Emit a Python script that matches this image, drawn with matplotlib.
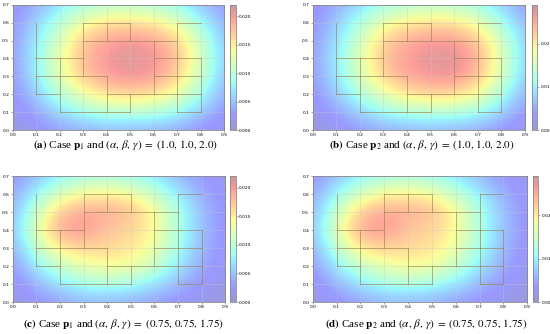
import numpy as np
import matplotlib
matplotlib.use("Agg")
import matplotlib.pyplot as plt

plt.rcParams['font.family'] = ['Liberation Serif', 'DejaVu Serif']
plt.rcParams['mathtext.fontset'] = 'stix'

# node grid of the field (x = 0.0 .. 0.9, y = 0.0 .. 0.7), rows listed top (y=0.7) to bottom
xs = np.round(np.arange(0, 0.91, 0.1), 2)
ys = np.round(np.arange(0, 0.71, 0.1), 2)

# field values in units of 1e-3
field_a = np.array([
    [1.8, 4.0, 6.6, 8.8, 9.9, 9.9, 9.2, 7.7, 4.8, 2.6],
    [2.2, 6.2, 9.9, 13.6, 15.4, 15.8, 15.0, 12.8, 8.4, 4.0],
    [2.6, 7.3, 12.1, 17.2, 19.4, 20.2, 19.4, 16.5, 11.0, 4.8],
    [2.9, 7.9, 13.2, 18.0, 20.2, 21.3, 20.5, 17.6, 12.1, 5.3],
    [2.6, 7.5, 12.8, 17.2, 19.8, 20.5, 19.8, 16.7, 11.0, 4.8],
    [2.2, 5.7, 9.9, 13.6, 15.8, 16.7, 15.8, 13.2, 8.8, 3.7],
    [1.5, 3.7, 6.6, 8.8, 9.9, 10.3, 9.9, 8.4, 5.5, 2.6],
    [0.7, 1.8, 3.1, 4.0, 4.4, 4.4, 4.2, 3.5, 2.2, 1.1],
])
field_b = np.array([
    [2.3, 4.9, 8.1, 11.0, 12.5, 13.1, 12.8, 11.0, 7.3, 3.8],
    [2.9, 7.5, 12.5, 17.4, 19.7, 20.9, 20.3, 17.4, 11.6, 5.8],
    [3.5, 8.7, 15.1, 21.8, 24.9, 26.1, 26.1, 22.6, 15.1, 7.0],
    [3.8, 9.9, 16.5, 23.2, 26.1, 27.6, 28.1, 24.4, 16.5, 7.5],
    [3.5, 9.3, 16.0, 22.0, 25.5, 26.7, 27.0, 23.2, 15.4, 7.0],
    [2.9, 7.3, 12.5, 17.4, 20.3, 21.8, 21.5, 18.3, 12.2, 5.2],
    [2.0, 4.6, 8.1, 11.0, 12.8, 13.3, 13.1, 11.6, 7.5, 3.5],
    [0.9, 2.0, 3.8, 4.9, 5.5, 5.8, 5.5, 4.9, 3.2, 1.5],
])
field_c = np.array([
    [2.2, 4.8, 7.3, 8.8, 9.2, 8.4, 6.6, 4.4, 2.6, 1.5],
    [3.3, 8.4, 12.1, 14.5, 15.0, 13.9, 11.0, 7.3, 4.0, 2.0],
    [4.4, 11.0, 17.2, 19.4, 18.9, 18.0, 14.3, 9.2, 4.8, 2.2],
    [4.8, 12.8, 19.4, 20.2, 17.2, 16.3, 14.3, 9.2, 4.8, 2.2],
    [4.0, 10.6, 15.4, 16.5, 16.3, 15.8, 13.2, 8.8, 4.4, 2.0],
    [2.6, 7.3, 11.0, 13.2, 14.1, 13.6, 11.0, 7.0, 3.7, 1.8],
    [1.8, 4.4, 7.0, 8.8, 9.5, 8.8, 7.0, 4.4, 2.6, 1.3],
    [0.9, 2.2, 3.3, 4.4, 4.4, 4.0, 3.1, 2.2, 1.3, 0.7],
])
field_d = np.array([
    [2.9, 6.4, 9.6, 11.6, 12.2, 11.0, 8.7, 5.8, 3.5, 2.0],
    [4.4, 11.0, 16.0, 19.1, 19.7, 18.3, 14.5, 9.6, 5.2, 2.6],
    [5.8, 14.5, 22.6, 25.5, 24.9, 23.8, 18.9, 12.2, 6.4, 2.9],
    [6.4, 16.8, 25.5, 26.7, 22.6, 21.5, 18.9, 12.2, 6.4, 2.9],
    [5.2, 13.9, 20.3, 21.8, 21.5, 20.9, 17.4, 11.6, 5.8, 2.6],
    [3.5, 9.6, 14.5, 17.4, 18.6, 18.0, 14.5, 9.3, 4.9, 2.3],
    [2.3, 5.8, 9.3, 11.6, 12.5, 11.6, 9.3, 5.8, 3.5, 1.7],
    [1.2, 2.9, 4.4, 5.8, 5.8, 5.2, 4.1, 2.9, 1.7, 0.9],
])

vmax_list = [0.022, 0.029, 0.022, 0.029]
cbar_ticks = [[0, 0.005, 0.01, 0.015, 0.02], [0, 0.01, 0.02],
              [0, 0.005, 0.01, 0.015, 0.02], [0, 0.01, 0.02]]
cbar_fmt = ['%.3f', '%.2f', '%.3f', '%.2f']

# wall segments of the floor plan
h_segs = [(0.1, 0.2, 0.5), (0.1, 0.7, 0.8),
          (0.2, 0.1, 0.2), (0.2, 0.4, 0.8),
          (0.3, 0.1, 0.4), (0.3, 0.6, 0.8),
          (0.4, 0.1, 0.3), (0.4, 0.6, 0.8),
          (0.5, 0.3, 0.7),
          (0.6, 0.3, 0.5), (0.6, 0.7, 0.8)]
v_segs = [(0.1, 0.2, 0.6), (0.2, 0.1, 0.4), (0.3, 0.3, 0.6),
          (0.4, 0.1, 0.3), (0.4, 0.5, 0.6),
          (0.5, 0.1, 0.2), (0.5, 0.5, 0.6),
          (0.6, 0.2, 0.5), (0.7, 0.1, 0.6), (0.8, 0.1, 0.4)]

captions = [
    r"$\mathbf{(a)}$ Case $\mathbf{p}_1$ and $(\alpha,\, \beta,\, \gamma)\;=\;(1.0,\, 1.0,\, 2.0)$",
    r"$\mathbf{(b)}$ Case $\mathbf{p}_2$ and $(\alpha,\, \beta,\, \gamma)\;=\;(1.0,\, 1.0,\, 2.0)$",
    r"$\mathbf{(c)}$ Case $\mathbf{p}_1$ and $(\alpha,\, \beta,\, \gamma)\;=\;(0.75,\, 0.75,\, 1.75)$",
    r"$\mathbf{(d)}$ Case $\mathbf{p}_2$ and $(\alpha,\, \beta,\, \gamma)\;=\;(0.75,\, 0.75,\, 1.75)$",
]

W, H = 550, 334
# pixel boxes: axes (left, right, top, bottom), colorbar left
boxes = [(12.7, 224.0, 4.7, 130.0, 230.0),
         (312.7, 525.0, 4.7, 130.0, 531.7),
         (12.7, 225.3, 176.3, 302.0, 230.0),
         (312.7, 527.3, 176.3, 302.0, 532.7)]
cap_pos = [(126, 145), (422, 145), (124, 323.7), (426, 323.7)]

fig = plt.figure(figsize=(5.5, 3.34), dpi=100)
fields = [field_a, field_b, field_c, field_d]
for k in range(4):
    l, r, t, b, cl = boxes[k]
    ax = fig.add_axes([l / W, 1 - b / H, (r - l) / W, (b - t) / H])
    cax = fig.add_axes([cl / W, 1 - b / H, 5.5 / W, (b - t) / H])
    z = fields[k] * 1e-3
    im = ax.imshow(z, extent=[-0.05, 0.95, -0.05, 0.75], origin='upper',
                   cmap='jet', vmin=0, vmax=vmax_list[k], alpha=0.4,
                   interpolation='bicubic', aspect='auto', zorder=1)
    for y, x0, x1 in h_segs:
        ax.plot([x0, x1], [y, y], color='#8a6a2a', lw=0.55, alpha=0.6, zorder=3)
    for x, y0, y1 in v_segs:
        ax.plot([x, x], [y0, y1], color='#8a6a2a', lw=0.55, alpha=0.6, zorder=3)
    ax.set_xlim(0, 0.9)
    ax.set_ylim(0, 0.7)
    ax.set_xticks(xs)
    ax.set_yticks(ys)
    ax.set_xticklabels(['%.1f' % v for v in xs], family='DejaVu Sans')
    ax.set_yticklabels(['%.1f' % v for v in ys], family='DejaVu Sans')
    ax.tick_params(labelsize=3.2, length=1.5, width=0.4, pad=1, color='#666666')
    ax.grid(True, color='#c8c8c8', lw=0.4, alpha=0.6, zorder=2)
    for s in ax.spines.values():
        s.set_color('#888888')
        s.set_linewidth(0.6)
    cb = fig.colorbar(im, cax=cax, ticks=cbar_ticks[k], format=cbar_fmt[k])
    cb.outline.set_edgecolor('#888888')
    cb.outline.set_linewidth(0.6)
    cax.tick_params(labelsize=3.2, length=1.5, width=0.4, pad=1, color='#666666')
    for lab in cax.get_yticklabels():
        lab.set_family('DejaVu Sans')
    fig.text(cap_pos[k][0] / W, 1 - cap_pos[k][1] / H, captions[k],
             ha='center', va='center', fontsize=8)

fig.savefig('out.png', dpi=100)
